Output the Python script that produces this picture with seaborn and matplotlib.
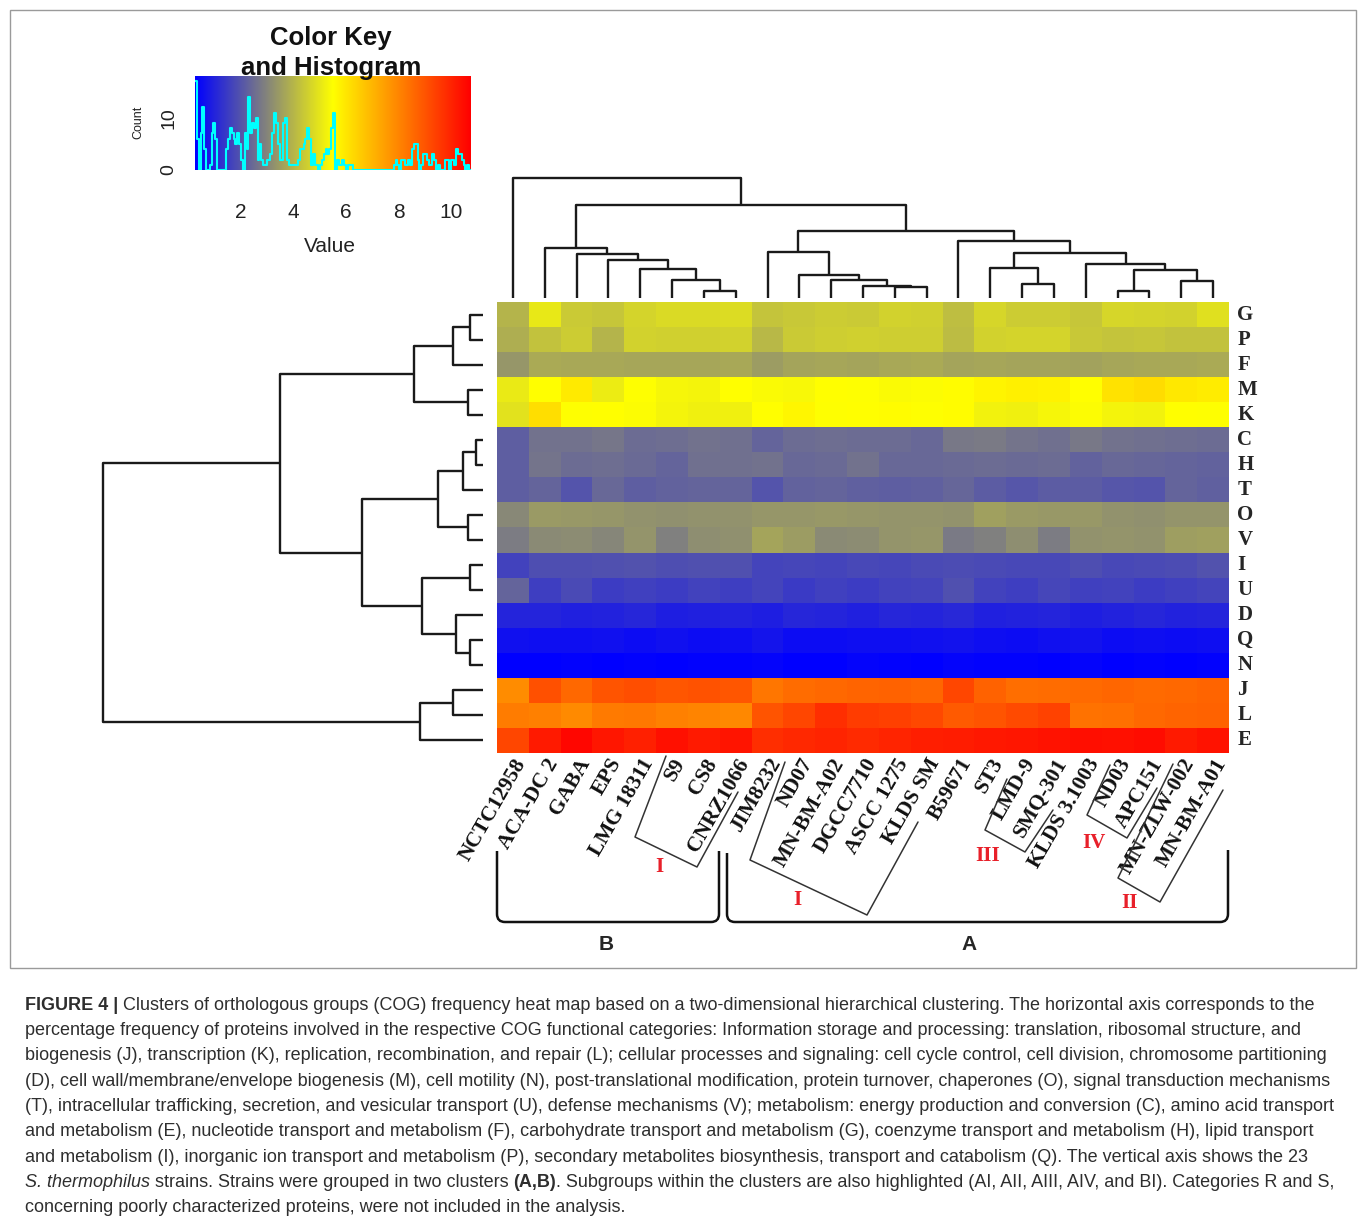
import numpy as np
import pandas as pd
import matplotlib
matplotlib.use("Agg")
import matplotlib.pyplot as plt
import seaborn as sns
from matplotlib.colors import LinearSegmentedColormap
from matplotlib.path import Path
from matplotlib.patches import PathPatch, Rectangle
from matplotlib.transforms import ScaledTranslation

# ---- data ---------------------------------------------------------------
strains = ["NCTC12958", "ACA-DC 2", "GABA", "EPS", "LMG 18311", "S9", "CS8",
           "CNRZ1066", "JIM8232", "ND07", "MN-BM-A02", "DGCC7710", "ASCC 1275",
           "KLDS SM", "B59671", "ST3", "LMD-9", "SMQ-301", "KLDS 3.1003",
           "ND03", "APC151", "MN-ZLW-002", "MN-BM-A01"]
cog_rows = ["G", "P", "F", "M", "K", "C", "H", "T", "O", "V",
            "I", "U", "D", "Q", "N", "J", "L", "E"]

cog_G = [3.95, 5.02, 4.41, 4.33, 4.62, 4.76, 4.73, 4.78, 4.28, 4.39, 4.47, 4.42,
         4.56, 4.53, 4.18, 4.64, 4.46, 4.44, 4.31, 4.67, 4.63, 4.58, 4.86]
cog_P = [3.84, 4.24, 4.46, 3.96, 4.57, 4.52, 4.55, 4.59, 4.06, 4.43, 4.48, 4.54,
         4.51, 4.49, 4.14, 4.56, 4.61, 4.63, 4.36, 4.29, 4.32, 4.23, 4.26]
cog_F = [3.35, 3.76, 3.71, 3.73, 3.68, 3.69, 3.66, 3.72, 3.45, 3.62, 3.67, 3.65,
         3.70, 3.74, 3.63, 3.66, 3.61, 3.64, 3.59, 3.68, 3.71, 3.73, 3.75]
cog_M = [5.08, 5.52, 5.92, 5.12, 5.49, 5.31, 5.28, 5.54, 5.41, 5.36, 5.51, 5.47,
         5.39, 5.43, 5.56, 5.71, 5.82, 5.78, 5.53, 6.08, 6.21, 5.96, 5.88]
cog_K = [4.91, 6.18, 5.48, 5.53, 5.42, 5.29, 5.21, 5.18, 5.50, 5.68, 5.46, 5.51,
         5.55, 5.49, 5.57, 5.22, 5.19, 5.32, 5.45, 5.26, 5.24, 5.52, 5.48]
cog_C = [2.20, 2.62, 2.59, 2.70, 2.46, 2.54, 2.61, 2.56, 2.31, 2.49, 2.52, 2.50,
         2.48, 2.41, 2.74, 2.76, 2.63, 2.55, 2.73, 2.60, 2.58, 2.51, 2.47]
cog_H = [2.19, 2.64, 2.50, 2.52, 2.44, 2.30, 2.56, 2.57, 2.62, 2.39, 2.42, 2.60,
         2.38, 2.40, 2.45, 2.47, 2.43, 2.46, 2.29, 2.41, 2.37, 2.32, 2.28]
cog_T = [2.21, 2.30, 1.99, 2.39, 2.20, 2.29, 2.31, 2.33, 1.98, 2.28, 2.32, 2.22,
         2.18, 2.24, 2.34, 2.17, 2.01, 2.14, 2.16, 2.03, 1.97, 2.30, 2.23]
cog_O = [3.04, 3.41, 3.38, 3.34, 3.26, 3.23, 3.27, 3.25, 3.36, 3.33, 3.37, 3.35,
         3.32, 3.30, 3.24, 3.56, 3.42, 3.39, 3.40, 3.27, 3.22, 3.31, 3.29]
cog_V = [2.80, 3.10, 3.12, 3.01, 3.31, 2.90, 3.18, 3.21, 3.65, 3.46, 3.08, 3.13,
         3.29, 3.33, 2.75, 2.91, 3.19, 2.82, 3.27, 3.32, 3.25, 3.50, 3.53]
cog_I = [1.60, 1.88, 1.85, 1.91, 1.95, 1.87, 1.92, 1.89, 1.65, 1.71, 1.67, 1.72,
         1.70, 1.78, 1.84, 1.80, 1.76, 1.74, 1.86, 1.75, 1.77, 1.81, 1.93]
cog_U = [2.30, 1.55, 1.80, 1.48, 1.58, 1.51, 1.62, 1.53, 1.66, 1.46, 1.57, 1.50,
         1.60, 1.64, 1.90, 1.61, 1.52, 1.68, 1.56, 1.63, 1.49, 1.59, 1.65]
cog_D = [1.02, 0.99, 0.91, 0.95, 1.05, 0.89, 0.93, 0.97, 0.88, 1.03, 0.99, 0.92,
         1.06, 1.00, 1.08, 0.90, 0.94, 1.01, 0.87, 0.97, 1.04, 0.95, 0.99]
cog_Q = [0.60, 0.55, 0.53, 0.58, 0.51, 0.57, 0.50, 0.54, 0.66, 0.52, 0.49, 0.55,
         0.53, 0.59, 0.63, 0.56, 0.52, 0.57, 0.61, 0.50, 0.54, 0.51, 0.55]
cog_N = [0.28, 0.26, 0.30, 0.27, 0.32, 0.27, 0.29, 0.31, 0.36, 0.28, 0.26, 0.33,
         0.30, 0.27, 0.35, 0.29, 0.31, 0.27, 0.34, 0.26, 0.30, 0.28, 0.32]
cog_J = [7.87, 9.10, 8.62, 9.02, 9.12, 8.98, 9.04, 8.96, 8.31, 8.52, 8.60, 8.68,
         8.72, 8.66, 9.30, 8.74, 8.48, 8.54, 8.58, 8.63, 8.57, 8.61, 8.70]
cog_L = [8.20, 8.10, 7.92, 8.22, 8.28, 8.12, 8.02, 7.95, 9.00, 9.32, 9.80, 9.50,
         9.42, 9.28, 8.90, 9.02, 9.20, 9.38, 8.40, 8.44, 8.60, 8.68, 8.73]
cog_E = [9.30, 10.20, 10.62, 10.30, 10.10, 10.42, 10.22, 10.32, 9.80, 9.90, 10.00, 9.88,
         10.02, 10.12, 10.18, 10.24, 10.28, 10.38, 10.44, 10.40, 10.50, 10.21, 10.36]

# dendrograms: (merge height, left, right), heights
row_tree = (10.0,
            (5.34,
             (1.82, (0.79, (0.34, "G", "P"), "F"), (0.39, "M", "K")),
             (3.18,
              (1.18, (0.53, (0.18, "C", "H"), "T"), (0.39, "O", "V")),
              (1.61, (0.34, "I", "U"), (0.71, "D", (0.34, "Q", "N"))))),
            (1.66, (0.79, "J", "L"), "E"))

clade_B = (4.17, "ACA-DC 2", (3.67, "GABA", (3.17, "EPS", (2.42, "LMG 18311",
           (1.5, "S9", (0.58, "CS8", "CNRZ1066"))))))
clade_A1 = (3.83, "JIM8232", (1.92, "ND07", (1.5, "MN-BM-A02",
            (1.0, "DGCC7710", (0.92, "ASCC 1275", "KLDS SM")))))
clade_A2 = (4.75, "B59671",
            (3.75, (2.5, "ST3", (1.17, "LMD-9", "SMQ-301")),
             (2.83, "KLDS 3.1003",
              (2.33, (0.58, "ND03", "APC151"), (1.42, "MN-ZLW-002", "MN-BM-A01")))))
col_tree = (10.0, "NCTC12958", (7.75, clade_B, (5.58, clade_A1, clade_A2)))

VMIN, VMAX = 0.24, 10.76

caption = [
    [("FIGURE 4 |", "bold"), (" Clusters of orthologous groups (COG) frequency heat map based on a two-dimensional hierarchical clustering. The horizontal axis corresponds to the", "normal")],
    [("percentage frequency of proteins involved in the respective COG functional categories: Information storage and processing: translation, ribosomal structure, and", "normal")],
    [("biogenesis (J), transcription (K), replication, recombination, and repair (L); cellular processes and signaling: cell cycle control, cell division, chromosome partitioning", "normal")],
    [("(D), cell wall/membrane/envelope biogenesis (M), cell motility (N), post-translational modification, protein turnover, chaperones (O), signal transduction mechanisms", "normal")],
    [("(T), intracellular trafficking, secretion, and vesicular transport (U), defense mechanisms (V); metabolism: energy production and conversion (C), amino acid transport", "normal")],
    [("and metabolism (E), nucleotide transport and metabolism (F), carbohydrate transport and metabolism (G), coenzyme transport and metabolism (H), lipid transport", "normal")],
    [("and metabolism (I), inorganic ion transport and metabolism (P), secondary metabolites biosynthesis, transport and catabolism (Q). The vertical axis shows the 23", "normal")],
    [("S. thermophilus", "italic"), (" strains. Strains were grouped in two clusters ", "normal"), ("(A,B)", "bold"), (". Subgroups within the clusters are also highlighted (AI, AII, AIII, AIV, and BI). Categories R and S,", "normal")],
    [("concerning poorly characterized proteins, were not included in the analysis.", "normal")],
]

# ---- helpers ---------------------------------------------------------------
W, H = 1360, 1223


def frac(x0, y0, x1, y1):
    return [x0 / W, 1 - y1 / H, (x1 - x0) / W, (y1 - y0) / H]


def leaves(node):
    if isinstance(node, str):
        return [node]
    return leaves(node[1]) + leaves(node[2])


def draw_tree(ax, node, pos, side):
    if isinstance(node, str):
        return pos[node], 0.0
    h, left, right = node
    p1, h1 = draw_tree(ax, left, pos, side)
    p2, h2 = draw_tree(ax, right, pos, side)
    if side == "top":
        ax.plot([p1, p1, p2, p2], [h1, h, h, h2], color="#1a1a1a", lw=1.7,
                solid_capstyle="butt")
    else:
        ax.plot([h1, h, h, h2], [p1, p1, p2, p2], color="#1a1a1a", lw=1.7,
                solid_capstyle="butt")
    return (p1 + p2) / 2, h


sns.set_style("white")
plt.rcParams["font.family"] = ["Liberation Sans", "DejaVu Sans"]
SERIF = ["Liberation Serif", "DejaVu Serif"]

cmap = LinearSegmentedColormap.from_list("byr", ["#0000FF", "#FFFF00", "#FF0000"])

df = pd.DataFrame([cog_G, cog_P, cog_F, cog_M, cog_K, cog_C, cog_H, cog_T, cog_O,
                   cog_V, cog_I, cog_U, cog_D, cog_Q, cog_N, cog_J, cog_L, cog_E],
                  index=cog_rows, columns=strains)
df = df.loc[leaves(row_tree), leaves(col_tree)]

fig = plt.figure(figsize=(W / 100, H / 100), dpi=100)

# ---- heat map --------------------------------------------------------------
ax_hm = fig.add_axes(frac(497, 302, 1229, 753))
sns.heatmap(df, ax=ax_hm, cmap=cmap, vmin=VMIN, vmax=VMAX, cbar=False,
            xticklabels=False, yticklabels=True)
ax_hm.set_xlabel("")
ax_hm.set_ylabel("")
ax_hm.yaxis.tick_right()
ax_hm.set_yticklabels(df.index, rotation=0, ha="left", va="center",
                      fontsize=15, fontweight="bold", family=SERIF)
ax_hm.tick_params(axis="y", length=0, pad=6)

lab_tr = ax_hm.get_xaxis_transform() + ScaledTranslation(0.09, -0.07, fig.dpi_scale_trans)
for i, s in enumerate(df.columns):
    ax_hm.text(i + 0.5, 0, s, transform=lab_tr, rotation=60, rotation_mode="anchor",
               ha="right", va="center", fontsize=15.5, fontweight="bold",
               family=SERIF, color="#111111")

# ---- dendrograms -----------------------------------------------------------
ax_top = fig.add_axes(frac(497, 170, 1229, 298))
draw_tree(ax_top, col_tree, {s: i + 0.5 for i, s in enumerate(df.columns)}, "top")
ax_top.set_xlim(0, len(df.columns))
ax_top.set_ylim(0, 128 / 12)
ax_top.axis("off")

ax_left = fig.add_axes(frac(90, 302, 483, 753))
draw_tree(ax_left, row_tree, {r: i + 0.5 for i, r in enumerate(df.index)}, "left")
ax_left.set_xlim(393 / 38, 0)
ax_left.set_ylim(len(df.index), 0)
ax_left.axis("off")

# ---- colour key and histogram ---------------------------------------------
ax_key = fig.add_axes(frac(195, 76, 471, 170))
ax_key.imshow(np.linspace(VMIN, VMAX, 256)[None, :], cmap=cmap, aspect="auto",
              extent=(VMIN, VMAX, 0, 18), origin="lower", interpolation="bilinear")
edges = np.linspace(VMIN, VMAX, 151)
counts, _ = np.histogram(df.values.ravel(), bins=edges)
ax_key.step(edges, np.append(counts, counts[-1]), where="post", color="cyan", lw=1.5)
ax_key.set_xlim(VMIN, VMAX)
ax_key.set_ylim(0, 18)
for sp in ax_key.spines.values():
    sp.set_visible(False)
ax_key.set_xticks([2, 4, 6, 8, 10])
ax_key.set_yticks([0, 5, 10, 15])
ax_key.set_yticklabels(["0", "", "10", ""], rotation=90, va="center")
ax_key.tick_params(axis="x", length=9.5, width=1.4, labelsize=15, pad=14,
                   color="#222222", labelcolor="#222222")
ax_key.tick_params(axis="y", length=8.5, width=1.4, labelsize=14, pad=4,
                   color="#222222", labelcolor="#222222")

# ---- overlay in pixel coordinates ------------------------------------------
ov = fig.add_axes([0, 0, 1, 1])
ov.set_xlim(0, W)
ov.set_ylim(H, 0)
ov.axis("off")

ov.add_patch(Rectangle((10, 10), 1346, 958, fill=False, ec="#9a9a9a", lw=1))

ov.text(331, 38, "Color Key", ha="center", va="center", fontsize=18.5,
        fontweight="bold", color="#111111")
ov.text(331, 68, "and Histogram", ha="center", va="center", fontsize=18.5,
        fontweight="bold", color="#111111")
ov.text(330, 246, "Value", ha="center", va="center", fontsize=15, color="#222222")
ov.text(138, 122, "Count", ha="center", va="center", fontsize=9, rotation=90,
        color="#222222")


def brace(x0, x1, yl, yr, yb, r=8):
    verts = [(x0, yl), (x0, yb - r), (x0, yb), (x0 + r, yb), (x1 - r, yb),
             (x1, yb), (x1, yb - r), (x1, yr)]
    codes = [Path.MOVETO, Path.LINETO, Path.CURVE3, Path.CURVE3, Path.LINETO,
             Path.CURVE3, Path.CURVE3, Path.LINETO]
    ov.add_patch(PathPatch(Path(verts, codes), fill=False, ec="#111111", lw=1.8))


brace(497, 719, 851, 851, 922)
brace(727, 1228, 853, 850, 922)
ov.text(606, 944, "B", ha="center", va="center", fontsize=15, fontweight="bold")
ov.text(969, 944, "A", ha="center", va="center", fontsize=15, fontweight="bold")

groups = [
    ([666, 635, 697, 738], [756, 837, 867, 792]),
    ([785, 750, 867, 918], [762, 860, 915, 822]),
    ([1007, 985, 1025, 1053], [779, 830, 852, 810]),
    ([1110, 1087, 1127, 1157], [765, 815, 838, 788]),
    ([1173, 1118, 1160, 1223], [764, 878, 902, 790]),
]
for gx, gy in groups:
    ov.plot(gx, gy, color="#333333", lw=1.1, solid_joinstyle="round")

for x, y, s in [(659, 867, "I"), (797, 900, "I"), (988, 856, "III"),
                (1094, 843, "IV"), (1130, 903, "II")]:
    ov.text(x, y, s, ha="center", va="center", fontsize=15, fontweight="bold",
            color="#e8202a", family=SERIF)

# ---- caption ---------------------------------------------------------------
renderer = fig.canvas.get_renderer()
CAP_FAMILY = ["Liberation Sans", "DejaVu Sans"]
STYLE = {"normal": {}, "bold": {"fontweight": "bold"}, "italic": {"fontstyle": "italic"}}


def seg_w(s, fs, style):
    # advance width of s, spaces included
    def w(txt):
        t = ov.text(0, 0, txt, fontsize=fs, family=CAP_FAMILY, **STYLE[style])
        v = t.get_window_extent(renderer=renderer).width
        t.remove()
        return v
    return w("|" + s + "|") - w("||")


base_fs = 12.0
nat = sum(seg_w(s, base_fs, st) for s, st in caption[0])
cap_fs = base_fs * (1322 - 25) / nat

for i, segs in enumerate(caption):
    y = 1010 + 25.25 * i
    x = 25
    for s, st in segs:
        ov.text(x, y, s, fontsize=cap_fs, family=CAP_FAMILY, va="baseline",
                ha="left", color="#2e2e2e", **STYLE[st])
        x += seg_w(s, cap_fs, st)

fig.savefig("out.png", dpi=100)
